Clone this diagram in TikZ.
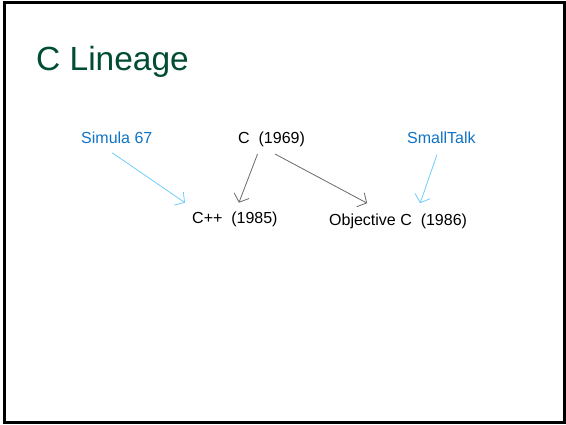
\documentclass[tikz,border=0pt]{standalone}
\usepackage{fontspec}
\setmainfont{Liberation Sans}
\usepackage{tikz}
\usetikzlibrary{arrows.meta}
\definecolor{titlegreen}{RGB}{0,77,51}
\definecolor{langblue}{RGB}{16,114,196}
\definecolor{linkblue}{RGB}{110,205,250}
\definecolor{linkgray}{RGB}{105,105,105}

\begin{document}
\begin{tikzpicture}[x=1pt,y=-1pt,
	lang/.style={anchor=base west,inner sep=0,font=\fontsize{16}{19}\selectfont},
	infl/.style={-{Straight Barb[length=7pt,width=16pt]},linkblue,line width=0.8pt},
	desc/.style={-{Straight Barb[length=7pt,width=16pt]},linkgray,line width=0.8pt}]
			\useasboundingbox (0,0) rectangle (566,424);
			\draw [line width=3pt] (4.5,2) rectangle (564.5,422.5);
			\node [anchor=base west,inner sep=0,titlegreen,font=\fontsize{33.5}{40}\selectfont] (title) at (36,70) {C Lineage};
			\node [lang,langblue] (simula) at (81,143.5) {Simula 67};
			\node [lang] (c) at (238,143.5) {C~~(1969)};
			\node [lang,langblue] (smalltalk) at (407,143.5) {SmallTalk};
			\node [lang] (cpp) at (192,223.5) {C++~~(1985)};
			\node [lang] (objc) at (329,225) {Objective C~~(1986)};
			\draw [infl] ([xshift=-4.5pt,yshift=-9pt]simula.south) -- ([xshift=-7pt,yshift=9pt]cpp.north west);
			\draw [desc] ([xshift=-14pt,yshift=-7pt]c.south) -- ([xshift=4pt,yshift=9pt]cpp.north);
			\draw [desc] ([xshift=3.5pt,yshift=-7pt]c.south) -- ([xshift=-31pt,yshift=10pt]objc.north);
			\draw [infl] ([xshift=-4.5pt,yshift=-11pt]smalltalk.south) -- ([xshift=22pt,yshift=10pt]objc.north);
		\end{tikzpicture}
\end{document}
